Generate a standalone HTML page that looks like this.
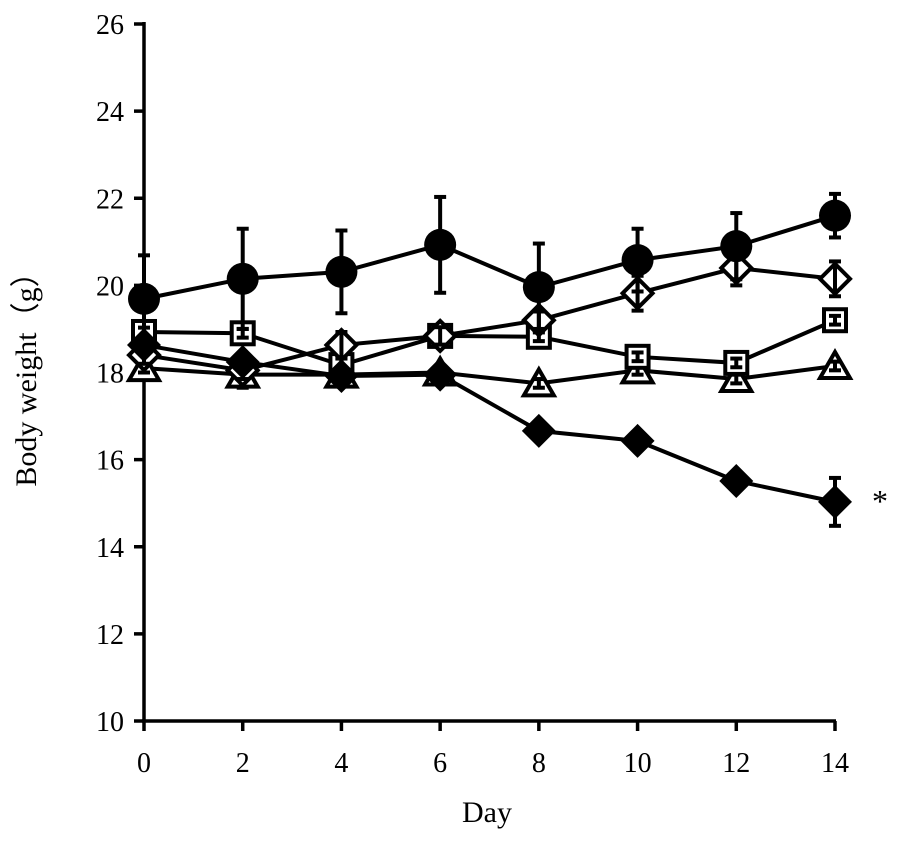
<!DOCTYPE html>
<html><head><meta charset="utf-8"><style>
body{margin:0;background:#fff}
svg text{font-family:"Liberation Serif",serif;fill:#000}
</style></head><body>
<svg id="chart" width="901" height="838" xmlns="http://www.w3.org/2000/svg"></svg>
<script>
const days=[0,2,4,6,8,10,12,14];
const yTicks=[10,12,14,16,18,20,22,24,26];
const circleVals=[19.69,20.15,20.31,20.93,19.96,20.58,20.9,21.6];
const circleErr=[1.0,1.15,0.95,1.1,1.0,0.72,0.76,0.5];
const openDiamondVals=[18.4,18.05,18.63,18.84,19.2,19.82,20.4,20.15];
const openDiamondErr=[0.2,0.2,0.3,0.2,0.2,0.4,0.4,0.4];
const squareVals=[18.93,18.9,18.17,18.84,18.82,18.36,18.22,19.2];
const squareErr=[0.1,0.1,0.15,0.15,0.1,0.1,0.1,0.1];
const triangleVals=[18.1,17.95,17.95,18.0,17.75,18.05,17.85,18.15];
const triangleErr=[0.1,0.3,0.1,0.1,0.1,0.1,0.1,0.1];
const filledDiamondVals=[18.63,18.24,17.92,17.95,16.66,16.43,15.51,15.03];
const filledDiamondErr=[0.1,0.1,0.1,0.1,0.1,0.1,0.1,0.55];

const svg=document.getElementById('chart');
const NS='http://www.w3.org/2000/svg';
const X=d=>144+d*(835-144)/14;
const Y=v=>721-(v-10)*(721-24)/16;
function el(tag,attrs,parent){const e=document.createElementNS(NS,tag);for(const k in attrs)e.setAttribute(k,attrs[k]);(parent||svg).appendChild(e);return e;}

let a=el('line',{x1:144,y1:22,x2:144,y2:722,stroke:'#000','stroke-width':3.5});


a=el('line',{x1:142,y1:721,x2:836,y2:721,stroke:'#000','stroke-width':3.5});


yTicks.forEach(v=>{
  const t=el('line',{x1:134,x2:144,y1:Y(v),y2:Y(v),stroke:'#000','stroke-width':3.5});
  
  
  const l=el('text',{x:124,y:Y(v)+10,'text-anchor':'end','font-size':28});
  l.textContent=v;
  
  
});
days.forEach(d=>{
  const t=el('line',{x1:X(d),x2:X(d),y1:721,y2:731,stroke:'#000','stroke-width':3.5});
  
  
  const l=el('text',{x:X(d),y:772,'text-anchor':'middle','font-size':28});
  l.textContent=d;
  
  
});
let t=el('text',{x:487,y:822,'text-anchor':'middle','font-size':30});
t.textContent='Day';


t=el('text',{x:0,y:0,'text-anchor':'middle','font-size':30,transform:'translate(36,372) rotate(-90)'});
t.textContent='Body weight（g）';


t=el('text',{x:872,y:512,'font-size':32});
t.textContent='*';



function marker(g,type,x,y){
  const sw=4;
  if(type==='circle')return el('circle',{cx:x,cy:y,r:16,fill:'#000'},g);
  if(type==='square')return el('rect',{x:x-11,y:y-11,width:22,height:22,fill:'#fff',stroke:'#000','stroke-width':sw},g);
  if(type==='triangle')return el('polygon',{points:`${x},${y-14} ${x+15},${y+12} ${x-15},${y+12}`,fill:'#fff',stroke:'#000','stroke-width':sw},g);
  if(type==='odiamond')return el('polygon',{points:`${x},${y-15} ${x+15},${y} ${x},${y+15} ${x-15},${y}`,fill:'#fff',stroke:'#000','stroke-width':sw},g);
  return el('polygon',{points:`${x},${y-17} ${x+17},${y} ${x},${y+17} ${x-17},${y}`,fill:'#000'},g);
}
function series(name,vals,errs,type){
  const g=el('g',{});
  
  
  el('polyline',{points:days.map((d,i)=>X(d)+','+Y(vals[i])).join(' '),fill:'none',stroke:'#000','stroke-width':4},g);
  days.forEach((d,i)=>{
    const m=marker(g,type,X(d),Y(vals[i]));
    
    
  });
  days.forEach((d,i)=>{
    const x=X(d),y1=Y(vals[i]+errs[i]),y2=Y(vals[i]-errs[i]);
    el('line',{x1:x,x2:x,y1:y1,y2:y2,stroke:'#000','stroke-width':4},g);
    el('line',{x1:x-6,x2:x+6,y1:y1,y2:y1,stroke:'#000','stroke-width':4},g);
    el('line',{x1:x-6,x2:x+6,y1:y2,y2:y2,stroke:'#000','stroke-width':4},g);
  });
}
series('series-triangle',triangleVals,triangleErr,'triangle');
series('series-square',squareVals,squareErr,'square');
series('series-open-diamond',openDiamondVals,openDiamondErr,'odiamond');
series('series-filled-diamond',filledDiamondVals,filledDiamondErr,'fdiamond');
series('series-circle',circleVals,circleErr,'circle');
</script>
</body></html>
